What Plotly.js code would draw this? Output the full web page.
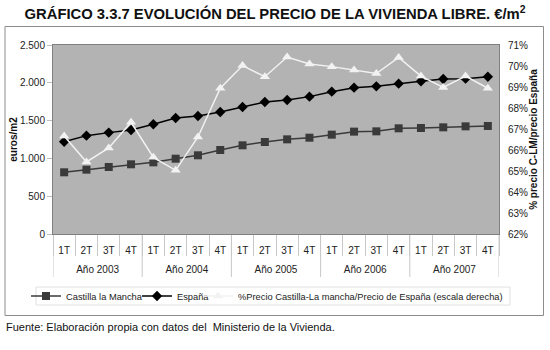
<!DOCTYPE html>
<html><head><meta charset="utf-8">
<script src="https://cdn.plot.ly/plotly-3.0.1.min.js"></script>
<style>html,body{margin:0;padding:0;background:#fff}#c{width:550px;height:350px}</style>
</head><body><div id="c"></div>
<script>
const years = ["Año 2003","Año 2003","Año 2003","Año 2003","Año 2004","Año 2004","Año 2004","Año 2004","Año 2005","Año 2005","Año 2005","Año 2005","Año 2006","Año 2006","Año 2006","Año 2006","Año 2007","Año 2007","Año 2007","Año 2007"];
const quarters = ["1T","2T","3T","4T","1T","2T","3T","4T","1T","2T","3T","4T","1T","2T","3T","4T","1T","2T","3T","4T"];
const clm = [816,851,886,922,948,996,1041,1111,1173,1217,1252,1274,1314,1354,1358,1398,1402,1411,1424,1429];
const espana = [1221,1301,1341,1376,1451,1534,1561,1614,1680,1746,1773,1817,1883,1936,1953,1989,2020,2050,2055,2081];
const ratio = [66.67,65.43,66.10,67.32,65.65,65.03,66.62,68.94,70.02,69.49,70.43,70.10,69.97,69.81,69.64,70.41,69.52,68.98,69.52,68.94];

const keys = years.map((y, i) => y + " " + quarters[i]);
// year groups: centres and boundaries (in category index units)
const yearNames = [], yearCentres = [], bounds = [-0.5];
years.forEach((y, i) => {
  if (i === years.length - 1 || years[i + 1] !== y) {
    const start = years.indexOf(y);
    yearNames.push(y); yearCentres.push((start + i) / 2); bounds.push(i + 0.5);
  }
});

const font = "Liberation Sans, Arial, sans-serif";
const traces = [
  {x: keys, y: clm, name: "Castilla la Mancha", type: "scatter", mode: "lines+markers", legend: "legend",
   line: {color: "#3a3a3a", width: 1.5}, marker: {symbol: "square", size: 8, color: "#3a3a3a"}},
  {x: keys, y: espana, name: "España", type: "scatter", mode: "lines+markers", legend: "legend2",
   line: {color: "#000", width: 1.5}, marker: {symbol: "diamond", size: 8, color: "#000"}},
  {x: keys, y: ratio, name: "%Precio Castilla-La mancha/Precio de España (escala derecha)", type: "scatter", mode: "lines+markers", yaxis: "y2", legend: "legend3",
   line: {color: "#f2f2f2", width: 1.5}, marker: {symbol: "triangle-up", size: 9, color: "#f2f2f2"}}
];
const W = 446, H = 189, L = 53, T = 45;
const px = v => (v - L) / W, py = v => (T + H - v) / H;
const legBase = {orientation: "h", yanchor: "middle", xanchor: "left", bgcolor: "rgba(0,0,0,0)", borderwidth: 0,
  font: {family: font, size: 9.3, color: "#222"}, itemwidth: 30};
const shapes = [
  {type: "rect", xref: "paper", yref: "paper", x0: px(5), x1: px(543.5), y0: py(315.5), y1: py(26.5),
   line: {color: "#8c8c8c", width: 1}, fillcolor: "rgba(0,0,0,0)", layer: "below"},
  {type: "rect", xref: "paper", yref: "paper", x0: px(36), x1: px(510), y0: py(305), y1: py(287),
   line: {color: "#e0e0e0", width: 1}, fillcolor: "rgba(0,0,0,0)", layer: "below"}
].concat(bounds.map(b => ({type: "line", xref: "x2", yref: "paper", x0: b, x1: b, y0: 0, y1: py(277),
   line: {color: "#c8c8c8", width: 1}, layer: "below"})));

const layout = {
  width: 550, height: 350,
  margin: {l: L, r: 550 - L - W, t: T, b: 350 - T - H, autoexpand: false},
  paper_bgcolor: "#fff", plot_bgcolor: "#b3b3b3",
  font: {family: font, size: 10, color: "#222"},
  separators: ",.",
  showlegend: true,
  title: {text: "GRÁFICO 3.3.7 EVOLUCIÓN DEL PRECIO DE LA VIVIENDA LIBRE. €/m<sup>2</sup>",
          font: {family: font, size: 14.8, color: "#111", weight: "bold"}, x: 0.5, xanchor: "center", y: 1 - 14/350, yanchor: "middle"},
  xaxis: {type: "category", range: [-0.5, keys.length - 0.5], automargin: false, showline: true, mirror: true, linecolor: "#808080", linewidth: 1,
          showgrid: false, ticks: "outside", ticklen: 21, tickcolor: "#c8c8c8", tickson: "boundaries", tickangle: 0,
          tickmode: "array", tickvals: keys, ticktext: quarters, ticklabelstandoff: 7,
          tickfont: {family: font, size: 10, color: "#222"}},
  xaxis2: {type: "linear", overlaying: "x", anchor: "y", side: "bottom", range: [-0.5, keys.length - 0.5], automargin: false,
           showline: false, showgrid: false, zeroline: false, ticks: "", tickmode: "array", tickvals: yearCentres, ticktext: yearNames,
           ticklabelstandoff: 28, tickangle: 0, tickfont: {family: font, size: 10, color: "#222"}},
  yaxis: {range: [0, 2500], dtick: 500, automargin: false, showgrid: false, zeroline: false, showline: true, linecolor: "#808080",
          ticks: "outside", ticklen: 5, tickcolor: "#bdbdbd", tickformat: ",d", ticklabelstandoff: 0,
          title: {text: "euros/m2", font: {family: font, size: 10, weight: "bold", color: "#111"}, standoff: 0}},
  yaxis2: {range: [62, 71], dtick: 1, overlaying: "y", side: "right", automargin: false, showgrid: false, zeroline: false,
           showline: true, linecolor: "#808080", ticks: "", ticksuffix: "%", ticklabelstandoff: 6,
           title: {text: "% precio C-LM/precio España", font: {family: font, size: 10, weight: "bold", color: "#111"}, standoff: 2}},
  legend: Object.assign({}, legBase, {x: px(26), y: py(296)}),
  legend2: Object.assign({}, legBase, {x: px(137), y: py(296)}),
  legend3: Object.assign({}, legBase, {x: px(198), y: py(296)}),
  shapes: shapes,
  annotations: [
    {text: "Fuente: Elaboración propia con datos del  Ministerio de la Vivienda.", xref: "paper", yref: "paper",
     x: px(4), y: py(327), xanchor: "left", yanchor: "middle", showarrow: false,
     font: {family: font, size: 11, color: "#111"}}
  ]
};
Plotly.newPlot("c", traces, layout, {displayModeBar: false, staticPlot: true});
</script></body></html>
